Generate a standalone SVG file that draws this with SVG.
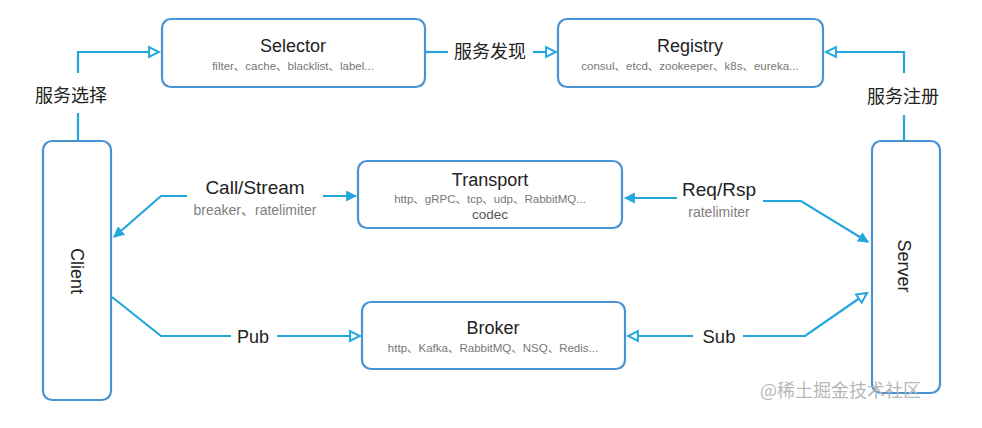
<svg xmlns="http://www.w3.org/2000/svg" width="982" height="428" viewBox="0 0 982 428">
<style>
.box{fill:#fff;stroke:#4a93d3;stroke-width:2.2}
.title{font-family:"Liberation Sans","Noto Sans CJK SC",sans-serif;font-size:18px;fill:#222;text-anchor:middle}
.sub{font-family:"Liberation Sans","Noto Sans CJK SC",sans-serif;font-size:11.5px;fill:#777;text-anchor:middle}
.lbl{font-family:"Liberation Sans","Noto Sans CJK SC",sans-serif;font-size:18.5px;fill:#222;text-anchor:middle}
.cn{font-family:"Noto Sans CJK SC",sans-serif;font-size:18px;fill:#222;text-anchor:middle}
.sublbl{font-family:"Liberation Sans","Noto Sans CJK SC",sans-serif;font-size:14px;fill:#808080;text-anchor:middle}
.c{fill:none;stroke:#22a7dd;stroke-width:2.2}
.wm{font-family:"Noto Sans CJK SC",sans-serif;font-size:18px;fill:#b8b8b8}
</style>
<defs>
<marker id="fa" viewBox="0 0 10 10" refX="9" refY="5" markerWidth="5" markerHeight="5" orient="auto" markerUnits="strokeWidth">
<path d="M0,0 L10,5 L0,10 z" fill="#22a7dd"/>
</marker>
<marker id="oa" viewBox="0 0 12 12" refX="10.5" refY="6" markerWidth="6" markerHeight="6" orient="auto" markerUnits="strokeWidth">
<path d="M1.5,1.5 L10.5,6 L1.5,10.5 z" fill="#fff" stroke="#22a7dd" stroke-width="1.8"/>
</marker>
</defs>
<rect width="982" height="428" fill="#fff"/>
<g id="connectors">
<path class="c" d="M78,140 V113"/>
<path class="c" d="M78,73 V52 H159" marker-end="url(#oa)"/>
<path class="c" d="M426,52 H448"/>
<path class="c" d="M533,52 H556" marker-end="url(#oa)"/>
<path class="c" d="M904,140 V115"/>
<path class="c" d="M904,73 V52 H826" marker-end="url(#oa)"/>
<path class="c" d="M187,196 H161 L114,237" marker-end="url(#fa)"/>
<path class="c" d="M323,196 H356" marker-end="url(#fa)"/>
<path class="c" d="M677,198 H625" marker-end="url(#fa)"/>
<path class="c" d="M763,201 H801 L868,242" marker-end="url(#fa)"/>
<path class="c" d="M112,297 L161,336 H231"/>
<path class="c" d="M277,336 H360" marker-end="url(#oa)"/>
<path class="c" d="M693,336 H628" marker-end="url(#oa)"/>
<path class="c" d="M743,336 H805 L867,293" marker-end="url(#oa)"/>
</g>
<g id="labels">
<text class="cn" x="71" y="102">服务选择</text>
<text class="cn" x="490" y="58">服务发现</text>
<text class="cn" x="903" y="103">服务注册</text>
<text class="lbl" x="255" y="194" style="font-size:19px">Call/Stream</text>
<text class="sublbl" x="255" y="215">breaker、ratelimiter</text>
<text class="lbl" x="719" y="196" style="font-size:19px">Req/Rsp</text>
<text class="sublbl" x="719" y="217">ratelimiter</text>
<text class="lbl" x="253" y="343" style="font-size:18px">Pub</text>
<text class="lbl" x="719" y="343">Sub</text>
</g>
<g id="selector">
<rect class="box" x="162" y="19" width="263" height="68" rx="9"/>
<text class="title" x="293" y="52">Selector</text>
<text class="sub" x="293" y="70">filter、cache、blacklist、label...</text>
</g>
<g id="registry">
<rect class="box" x="558" y="19" width="265" height="68" rx="9"/>
<text class="title" x="690" y="52">Registry</text>
<text class="sub" x="690" y="70">consul、etcd、zookeeper、k8s、eureka...</text>
</g>
<g id="transport">
<rect class="box" x="358" y="161" width="264" height="67" rx="9"/>
<text class="title" x="490" y="186">Transport</text>
<text class="sub" x="490" y="203">http、gRPC、tcp、udp、RabbitMQ...</text>
<text class="sublbl" x="490" y="219" style="fill:#555;font-size:13.5px">codec</text>
</g>
<g id="broker">
<rect class="box" x="362" y="302" width="263" height="67" rx="9"/>
<text class="title" x="493" y="334">Broker</text>
<text class="sub" x="493" y="352">http、Kafka、RabbitMQ、NSQ、Redis...</text>
</g>
<g id="client">
<rect class="box" x="43" y="141" width="68" height="259" rx="9"/>
<text class="title" transform="translate(71,271) rotate(90)" x="0" y="0">Client</text>
</g>
<g id="server">
<rect class="box" x="872" y="141" width="68" height="252" rx="9"/>
<text class="title" transform="translate(898,266) rotate(90)" x="0" y="0">Server</text>
</g>
<text class="wm" x="760" y="397">@稀土掘金技术社区</text>
</svg>
